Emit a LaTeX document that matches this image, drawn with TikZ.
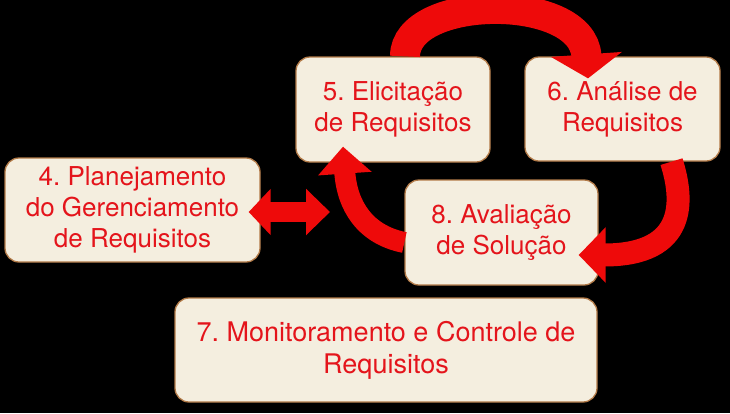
\documentclass[tikz,border=0pt]{standalone}
\usepackage{fontspec}
\setmainfont{TeX Gyre Heros}
\frenchspacing
\usetikzlibrary{arrows.meta}
\definecolor{boxfill}{HTML}{F4EEDF}
\definecolor{boxborder}{HTML}{B27A48}
\definecolor{txtred}{HTML}{E4141B}
\definecolor{arrred}{HTML}{EE0A0A}
\tikzset{
  box/.style={draw=boxborder, line width=1.3pt, fill=boxfill, rounded corners=14pt,
    inner sep=0pt, text=txtred, align=center, font=\fontsize{26}{31}\selectfont},
  flow/.style={draw=arrred, line width=#1},
}
\begin{document}
\begin{tikzpicture}[x=1pt,y=-1pt]
\fill[black] (0,0) rectangle (730,413);
\useasboundingbox (0,0) rectangle (730,413);

\node[box, minimum width=255pt, minimum height=104pt] (b4) at (132.5,210) {4. Planejamento\\do Gerenciamento\\de Requisitos};
\node[box, minimum width=194pt, minimum height=105pt] (b5) at (393,109.5) {5. Elicitação\\de Requisitos};
\node[box, minimum width=195pt, minimum height=104pt] (b6) at (622.5,109) {6. Análise de\\Requisitos};
\node[box, minimum width=193pt, minimum height=105pt] (b8) at (501.5,232.5) {8. Avaliação\\de Solução};
\node[box, minimum width=422pt, minimum height=104pt, font=\fontsize{27}{32}\selectfont] (b7) at (386,350) {7. Monitoramento e Controle de\\Requisitos};

% top arc 5 -> 6
\draw[flow=30pt, -{Triangle[length=24pt,width=70pt]}]
  ([xshift=12pt]b5.north) .. controls +(0,-62) and (582,-8) .. ([xshift=-34.5pt,yshift=-22pt]b6.north);
% 6 -> 8
\draw[flow=23pt, -{Triangle[length=27pt,width=54pt]}]
  ([xshift=49pt]b6.south) .. controls +(12,38) and (688,255) .. ([xshift=-20pt,yshift=-22.5pt]b8.east);
% 8 -> 5
\draw[flow=21pt, -{Triangle[length=27pt,width=52pt]}]
  ([yshift=-10pt]b8.west) .. controls +(-40,-8) and (347,205) .. ([xshift=-50pt,yshift=16pt]b5.south);
% 4 <-> 5/8
\coordinate (dend) at (330,212);
\draw[flow=20pt, {Triangle[length=22pt,width=45pt]}-{Triangle[length=24pt,width=45pt]}]
  ([xshift=-12pt,yshift=-2pt]b4.east) -- (dend);
\end{tikzpicture}
\end{document}
